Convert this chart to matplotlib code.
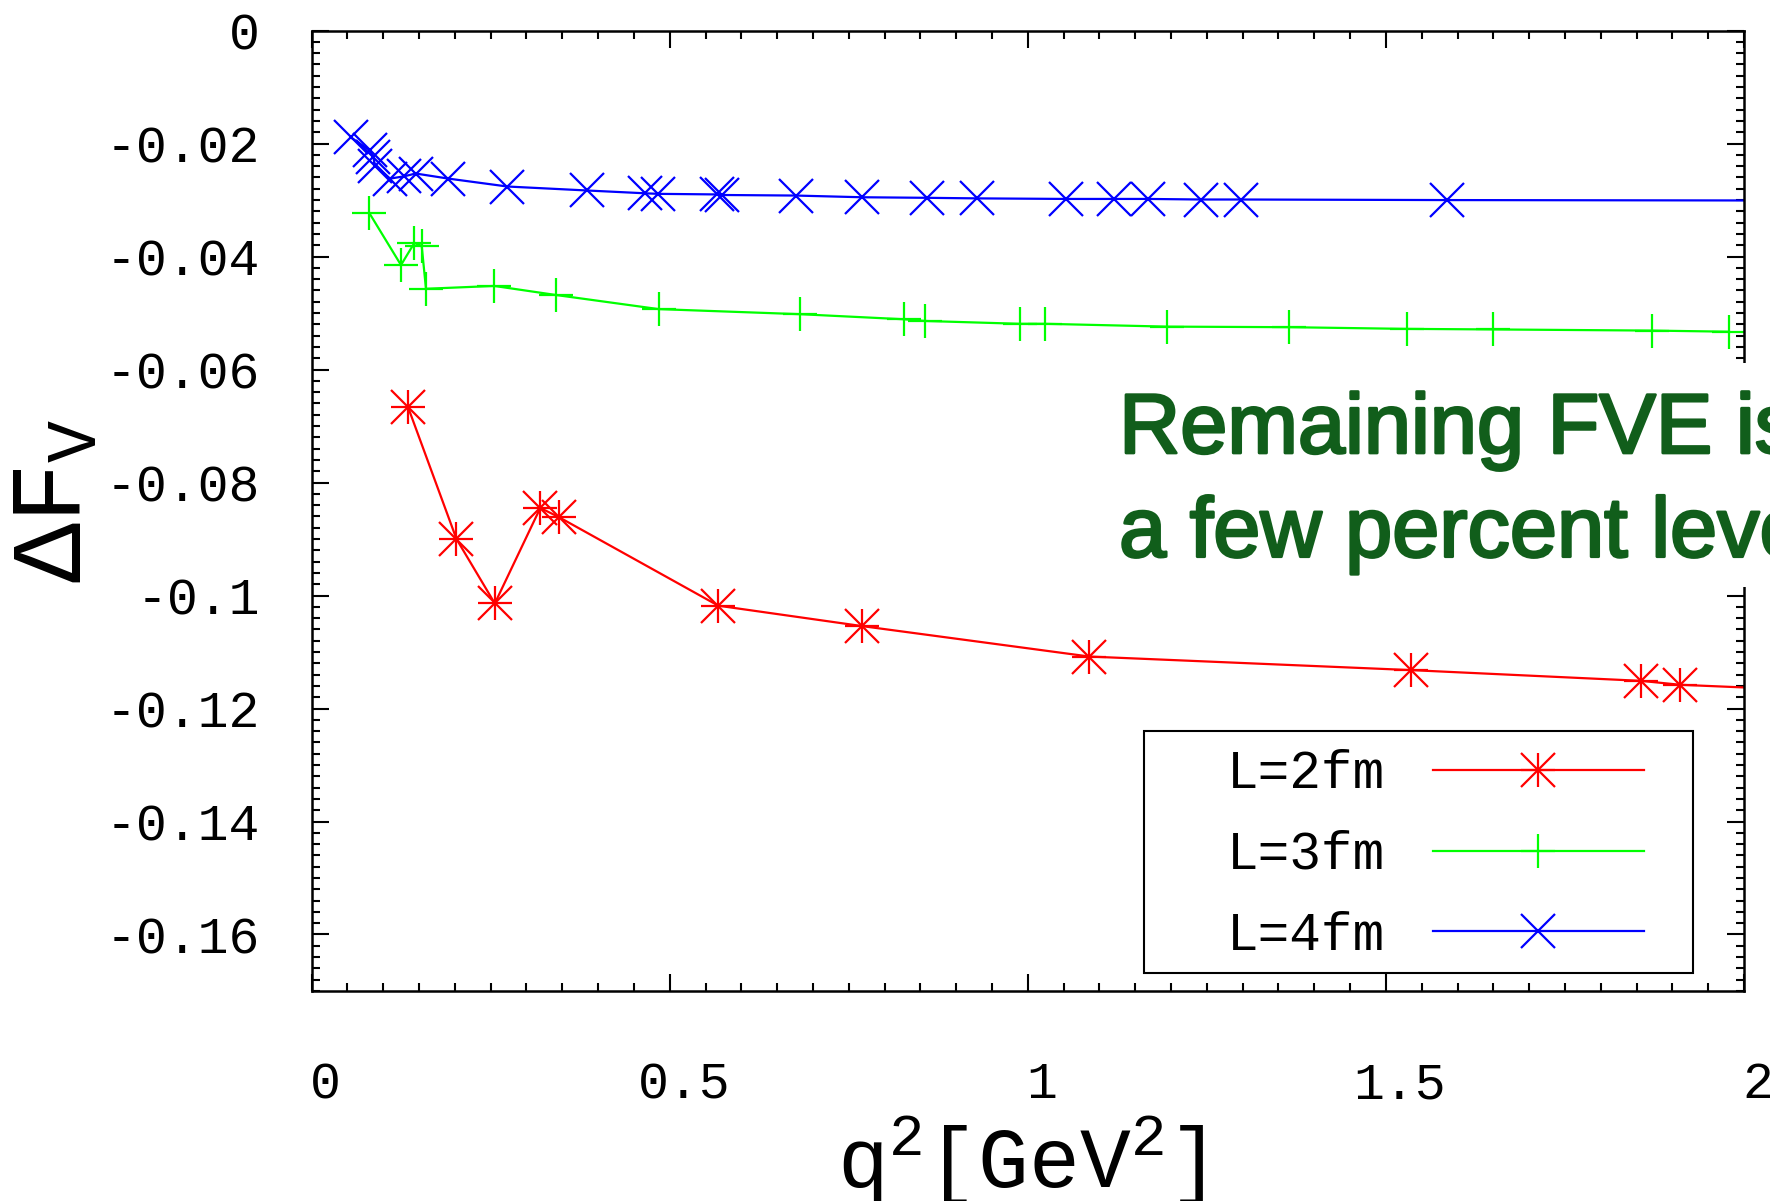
import numpy as np
import matplotlib as mpl; mpl.use('Agg')
import matplotlib.pyplot as plt
import matplotlib.patheffects as pe
from matplotlib.ticker import MultipleLocator
from matplotlib.legend_handler import HandlerTuple
from matplotlib.patches import Rectangle
from matplotlib.transforms import ScaledTranslation

# q^2 [GeV^2] and Delta F_V for the three box sizes
q2_L2 = [0.1345, 0.2023, 0.2558, 0.3193, 0.345, 0.5679, 0.768, 1.086, 1.535, 1.856, 1.911, 2.1]
dF_L2 = [-0.0666, -0.0900, -0.1014, -0.0845, -0.0861, -0.1018, -0.1054, -0.1108, -0.1132, -0.1151, -0.1158, -0.1168]

q2_L3 = [0.0806, 0.1248, 0.1434, 0.1537, 0.1597, 0.255, 0.341, 0.4846, 0.682, 0.8273, 0.8566,
         0.9887, 1.024, 1.194, 1.365, 1.529, 1.650, 1.871, 1.979]
dF_L3 = [-0.0323, -0.0415, -0.0376, -0.0381, -0.0457, -0.0452, -0.0468, -0.0493, -0.0502, -0.0511, -0.0514,
         -0.0519, -0.0519, -0.0524, -0.0525, -0.0528, -0.0529, -0.0531, -0.0533]

q2_L4 = [0.0546, 0.0815, 0.0862, 0.0885, 0.1095, 0.129, 0.1453, 0.191, 0.2733, 0.384, 0.4655, 0.484,
         0.5656, 0.5726, 0.676, 0.768, 0.859, 0.929, 1.054, 1.121, 1.1676, 1.2418, 1.298, 1.585, 2.2]
dF_L4 = [-0.0189, -0.0212, -0.0224, -0.0239, -0.0262, -0.0258, -0.0253, -0.0262, -0.0276, -0.0283, -0.0288, -0.0289,
         -0.0290, -0.0291, -0.0292, -0.0295, -0.0296, -0.0297, -0.0298, -0.0298, -0.0298, -0.0299, -0.0299, -0.0300, -0.0301]

labels = ['L=2fm', 'L=3fm', 'L=4fm']
xticks = [0, 0.5, 1, 1.5, 2]
xtick_labels = ['0', '0.5', '1', '1.5', '2']
yticks = [0, -0.02, -0.04, -0.06, -0.08, -0.1, -0.12, -0.14, -0.16]
ytick_labels = ['0', '-0.02', '-0.04', '-0.06', '-0.08', '-0.1', '-0.12', '-0.14', '-0.16']

mono = 'Liberation Mono'
plt.rcParams['font.family'] = mono
plt.rcParams['mathtext.fontset'] = 'custom'
plt.rcParams['mathtext.rm'] = mono
plt.rcParams['mathtext.it'] = mono

fig = plt.figure(figsize=(17.7, 12.01), dpi=100)
ax = fig.add_axes([0.17605, 0.17486, 0.80927, 0.79967])

ms = 24; mw = 1.6; lw = 1.6
# gnuplot "*" point = plus and cross on top of each other
r1, = ax.plot(q2_L2, dF_L2, color='red', lw=lw, marker='+', ms=ms, mew=mw)
r2, = ax.plot(q2_L2, dF_L2, color='red', ls='none', marker='x', ms=ms, mew=mw)
g1, = ax.plot(q2_L3, dF_L3, color='#00ff00', lw=lw, marker='+', ms=ms, mew=mw)
b1, = ax.plot(q2_L4, dF_L4, color='#0000ff', lw=lw, marker='x', ms=ms, mew=mw)

ax.set_xlim(0, 2)
ax.set_ylim(-0.17, 0)
ax.set_xticks(xticks)
ax.set_xticklabels(xtick_labels)
ax.set_yticks(yticks)
ax.set_yticklabels(ytick_labels)
ax.xaxis.set_minor_locator(MultipleLocator(0.05))
ax.yaxis.set_minor_locator(MultipleLocator(0.002))
ax.tick_params(which='both', direction='in', top=True, right=True, width=1.5, labelsize=37)
ax.tick_params(which='major', length=12)
ax.tick_params(which='minor', length=6)
ax.tick_params(axis='y', pad=37)
ax.tick_params(axis='x', pad=50)
for s in ax.spines.values():
    s.set_linewidth(1.8)
# x tick labels sit a little right of their ticks in the original
for t in ax.get_xticklabels():
    t.set_transform(t.get_transform() + ScaledTranslation(0.14, 0, fig.dpi_scale_trans))

ax.set_xlabel('q$^2$[GeV$^2$]', fontsize=61)
ax.xaxis.set_label_coords(0.4953, -0.205)
ax.xaxis.label.set_va('baseline')
ax.set_ylabel('ΔF${}_\\mathrm{V}$', fontsize=72)
ax.yaxis.set_label_coords(-0.161, 0.51)
ax.yaxis.label.set_va('baseline')

# legend box drawn by hand, entries placed inside it
ax.add_patch(Rectangle((0.5808, 0.0187), 0.3836, 0.2515, transform=ax.transAxes,
                       facecolor='white', edgecolor='black', lw=1.5, zorder=4))
leg = ax.legend([(r1, r2), g1, b1], labels, handler_map={tuple: HandlerTuple(ndivide=1, pad=0)},
                loc='center', bbox_to_anchor=(0.7846, 0.1416), frameon=False, markerfirst=False,
                numpoints=1, fontsize=38, handlelength=4.0, handletextpad=0.9,
                labelspacing=0.58, borderpad=0, borderaxespad=0)
leg.set_zorder(5)

green = '#115e1b'
thick = [pe.withStroke(linewidth=2.0, foreground=green)]   # a bit heavier than regular
ax.text(0.5637, 0.5602, 'Remaining FVE is at', transform=ax.transAxes, family='Liberation Sans',
        fontsize=61, color=green, va='baseline', ha='left', clip_on=False, path_effects=thick,
        bbox=dict(facecolor='white', edgecolor='none', pad=20))
ax.text(0.5637, 0.4522, 'a few percent level', transform=ax.transAxes, family='Liberation Sans',
        fontsize=61, color=green, va='baseline', ha='left', clip_on=False, path_effects=thick,
        bbox=dict(facecolor='white', edgecolor='none', pad=9))

plt.savefig('out.png', dpi=100)
